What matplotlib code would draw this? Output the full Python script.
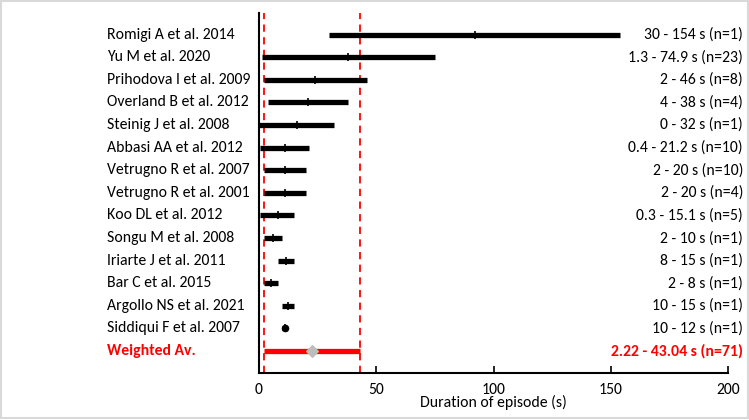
import matplotlib.pyplot as plt
from matplotlib.transforms import blended_transform_factory
from matplotlib.patches import Rectangle

studies = ["Romigi A et al. 2014", "Yu M et al. 2020", "Prihodova I et al. 2009",
           "Overland B et al. 2012", "Steinig J et al. 2008", "Abbasi AA et al. 2012",
           "Vetrugno R et al. 2007", "Vetrugno R et al. 2001", "Koo DL et al. 2012",
           "Songu M et al. 2008", "Iriarte J et al. 2011", "Bar C et al. 2015",
           "Argollo NS et al. 2021", "Siddiqui F et al. 2007"]
low = [30, 1.3, 2, 4, 0, 0.4, 2, 2, 0.3, 2, 8, 2, 10, 10]
high = [154, 74.9, 46, 38, 32, 21.2, 20, 20, 15.1, 10, 15, 8, 15, 12]
mid = [92, 38, 24, 21, 16, 11, 11, 11, 8, 6, 11.5, 5, 12.5, 11]
n = [1, 23, 8, 4, 1, 10, 10, 4, 5, 1, 1, 1, 1, 1]

avg_low = 2.22
avg_high = 43.04
avg_mid = 22.6
avg_n = 71

plt.rcParams['font.family'] = ['Carlito', 'Liberation Sans', 'DejaVu Sans']
fs = 11.3

fig = plt.figure(figsize=(7.49, 4.2), dpi=100)
ax = fig.add_axes([0.3458, 0.1119, 0.6262, 0.8579])

ys = list(range(len(studies)))
ax.hlines(ys, low, high, color='black', linewidth=3.8, zorder=3)
ax.scatter(mid, ys, marker='|', color='black', s=40, linewidths=1.2, zorder=4)
ax.scatter([11], [13], marker='o', color='black', s=20, zorder=4)

wy = len(studies)
ax.hlines(wy, avg_low, avg_high, color='red', linewidth=3.8, zorder=3)
ax.scatter([avg_mid], [wy], marker='D', color='#bdbdbd', s=35, zorder=4)

ax.axvline(avg_low, color='red', linestyle='--', linewidth=1.3, dashes=(4, 3), zorder=2)
ax.axvline(avg_high, color='red', linestyle='--', linewidth=1.3, dashes=(4, 3), zorder=2)

ax.set_xlim(0, 200)
ax.set_ylim(wy + 0.97, -0.97)
ax.set_yticks([])
ax.set_xticks([0, 50, 100, 150, 200])
ax.tick_params(axis='x', direction='in', length=5, width=1.2, labelsize=fs, pad=7)
for s in ['top', 'right']:
    ax.spines[s].set_visible(False)
ax.spines['left'].set_linewidth(1.5)
ax.spines['bottom'].set_linewidth(1.5)
ax.set_xlabel('Duration of episode (s)', fontsize=fs, labelpad=-1)

tr = blended_transform_factory(fig.transFigure, ax.transData)
for k in range(len(studies)):
    ax.text(107 / 749, k, studies[k], transform=tr, ha='left', va='center', fontsize=fs)
    ax.text(743 / 749, k, f"{low[k]:g} - {high[k]:g} s (n={n[k]})", transform=tr,
            ha='right', va='center', fontsize=fs)
ax.text(107 / 749, wy, 'Weighted Av.', transform=tr, ha='left', va='center',
        fontsize=fs, color='red', fontweight='bold')
ax.text(743 / 749, wy, f"{avg_low} - {avg_high} s (n={avg_n})", transform=tr,
        ha='right', va='center', fontsize=fs, color='red', fontweight='bold')

fig.patches.append(Rectangle((0.002, 0.005), 0.996, 0.992, transform=fig.transFigure,
                             fill=False, edgecolor='#d9d9d9', linewidth=1.5))

fig.savefig('out.png', dpi=100)
